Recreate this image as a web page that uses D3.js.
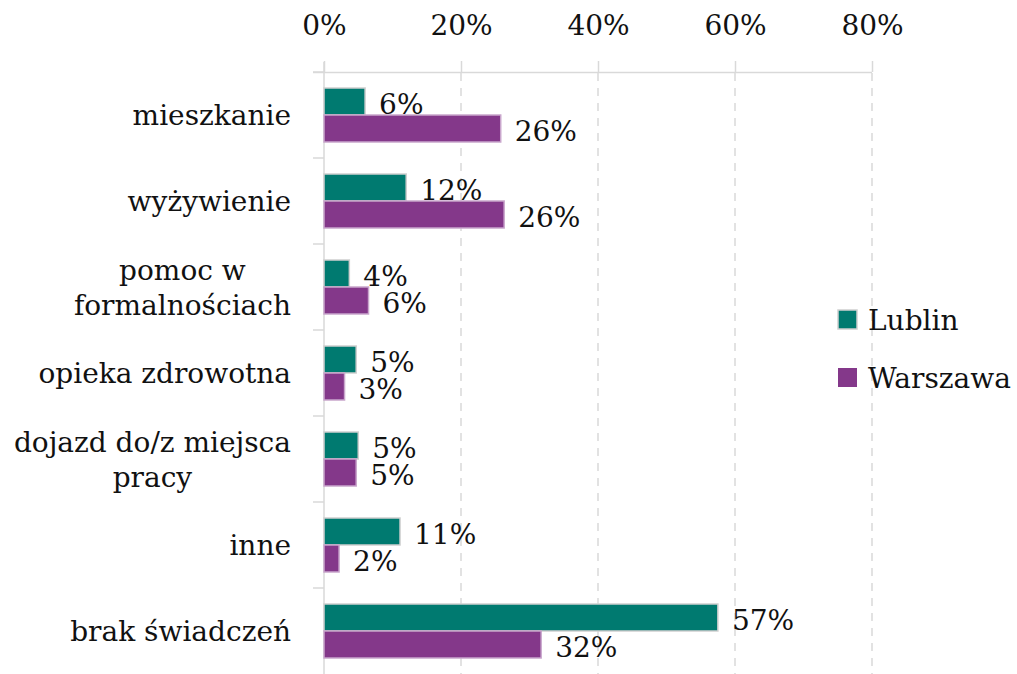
<!DOCTYPE html>
<html>
<head>
<meta charset="utf-8">
<script src="https://cdn.jsdelivr.net/npm/d3@7"></script>
<style>
  body { margin: 0; background: #fff; }
  svg text { font-family: "DejaVu Serif", serif; fill: #111; }
</style>
</head>
<body>
<svg width="1017" height="674"></svg>
<script>
// categories (each entry is the list of lines of its label)
var categories = [
  ["mieszkanie"],
  ["wyżywienie"],
  ["pomoc w", "formalnościach"],
  ["opieka zdrowotna"],
  ["dojazd do/z miejsca", "pracy"],
  ["inne"],
  ["brak świadczeń"]
];
var seriesNames = ["Lublin", "Warszawa"];
var lublin = [6.0, 12.0, 3.7, 4.7, 5.0, 11.1, 57.5];
var warszawa = [25.8, 26.3, 6.5, 3.0, 4.7, 2.2, 31.7];
var lublinLabels = ["6%", "12%", "4%", "5%", "5%", "11%", "57%"];
var warszawaLabels = ["26%", "26%", "6%", "3%", "5%", "2%", "32%"];
var xTicks = [0, 20, 40, 60, 80];
var colors = ["#007A70", "#84388A"];

var svg = d3.select("svg");
var fontSize = 28;
var font = "'DejaVu Serif', serif";

var catKeys = categories.map(function (d) { return d.join(" "); });
var rows = catKeys.map(function (k, i) {
  return {
    key: k,
    lines: categories[i],
    values: [
      { name: seriesNames[0], value: lublin[i], label: lublinLabels[i] },
      { name: seriesNames[1], value: warszawa[i], label: warszawaLabels[i] }
    ]
  };
});

var x = d3.scaleLinear().domain([0, 80]).range([324, 872]);
var y = d3.scaleBand().domain(catKeys).range([72, 674]);
var inner = d3.scaleBand().domain(seriesNames)
  .range([16, y.bandwidth() - 16]);
var color = d3.scaleOrdinal().domain(seriesNames).range(colors);

// dashed grid lines
svg.append("g")
  .selectAll("line")
  .data(xTicks.slice(1))
  .enter().append("line")
  .attr("x1", function (d) { return x(d); })
  .attr("x2", function (d) { return x(d); })
  .attr("y1", 73)
  .attr("y2", 674)
  .attr("stroke", "#d9d9d9")
  .attr("stroke-width", 1.5)
  .attr("stroke-dasharray", "8,7");

// top axis
var xAxis = svg.append("g")
  .attr("transform", "translate(0,72)")
  .call(d3.axisTop(x).tickValues(xTicks).tickSize(11).tickSizeOuter(0)
    .tickFormat(function (d) { return d + "%"; }));
xAxis.attr("font-family", null);
xAxis.select(".domain").attr("stroke", "#d9d9d9").attr("stroke-width", 1.5)
  .attr("d", "M313,0.5H" + x(80));
xAxis.selectAll(".tick line").attr("stroke", "#d9d9d9").attr("stroke-width", 1.5);
xAxis.selectAll(".tick text")
  .attr("y", -37)
  .attr("dy", 0)
  .style("font-family", font)
  .style("font-size", fontSize + "px")
  .attr("fill", "#111");

// left axis
svg.append("line")
  .attr("x1", 324).attr("x2", 324)
  .attr("y1", 62).attr("y2", 674)
  .attr("stroke", "#d9d9d9").attr("stroke-width", 1.5);
svg.append("g")
  .selectAll("line")
  .data(catKeys)
  .enter().append("line")
  .attr("x1", 313).attr("x2", 324)
  .attr("y1", function (d) { return y(d); })
  .attr("y2", function (d) { return y(d); })
  .attr("stroke", "#d9d9d9").attr("stroke-width", 1.5);

// category labels
var catLabel = svg.append("g")
  .selectAll("text")
  .data(rows)
  .enter().append("text")
  .attr("text-anchor", "middle")
  .style("font-family", font)
  .style("font-size", fontSize + "px");
catLabel.each(function (d) {
  var t = d3.select(this);
  var n = d.lines.length;
  var lineH = 35;
  var cy = y(d.key) + y.bandwidth() / 2;
  d.lines.forEach(function (line, i) {
    t.append("tspan")
      .attr("y", cy + 10 + (i - (n - 1) / 2) * lineH)
      .text(line);
  });
  // widest line decides the centre of the block
  var w = 0;
  t.selectAll("tspan").each(function () {
    w = Math.max(w, this.getComputedTextLength());
  });
  t.selectAll("tspan").attr("x", 291 - w / 2);
});

// bars
var group = svg.append("g")
  .selectAll("g")
  .data(rows)
  .enter().append("g")
  .attr("transform", function (d) { return "translate(0," + y(d.key) + ")"; });

group.selectAll("rect")
  .data(function (d) { return d.values; })
  .enter().append("rect")
  .attr("x", x(0))
  .attr("y", function (d) { return inner(d.name); })
  .attr("width", function (d) { return x(d.value) - x(0); })
  .attr("height", inner.bandwidth())
  .attr("fill", function (d) { return color(d.name); })
  .attr("stroke", function (d, i) { return i === 0 ? "#cfcfcf" : "#c9a6cc"; })
  .attr("stroke-width", 1.5);

group.selectAll(".val")
  .data(function (d) { return d.values; })
  .enter().append("text")
  .attr("class", "val")
  .attr("x", function (d) { return x(d.value) + 14; })
  .attr("y", function (d) { return inner(d.name) + inner.bandwidth() / 2 + 12; })
  .style("font-family", font)
  .style("font-size", fontSize + "px")
  .text(function (d) { return d.label; });

// legend
var legend = svg.append("g")
  .selectAll("g")
  .data(seriesNames)
  .enter().append("g")
  .attr("transform", function (d, i) { return "translate(838," + (320 + i * 58) + ")"; });
legend.append("rect")
  .attr("x", 0).attr("y", -10)
  .attr("width", 19).attr("height", 19)
  .attr("fill", function (d) { return color(d); })
  .attr("stroke", function (d, i) { return i === 0 ? "#cfcfcf" : "none"; })
  .attr("stroke-width", 1.5);
legend.append("text")
  .attr("x", 30)
  .attr("y", 10)
  .style("font-family", font)
  .style("font-size", fontSize + "px")
  .text(function (d) { return d; });
</script>
</body>
</html>
